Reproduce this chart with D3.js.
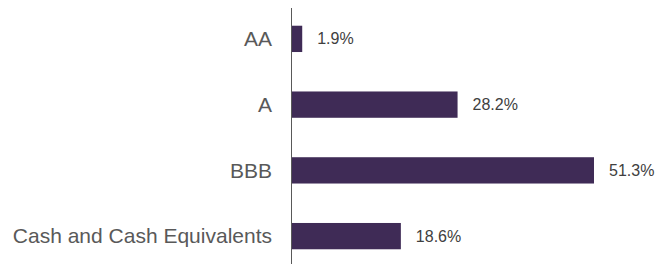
<!DOCTYPE html>
<html>
<head>
<meta charset="utf-8">
<script src="https://cdn.jsdelivr.net/npm/d3@7"></script>
<style>
  body { margin: 0; background: #fff; }
  svg { display: block; }
</style>
</head>
<body>
<svg width="656" height="264"></svg>
<script>
var categories = ["AA", "A", "BBB", "Cash and Cash Equivalents"];
var values = [1.9, 28.2, 51.3, 18.6];
var valueLabels = ["1.9%", "28.2%", "51.3%", "18.6%"];

var svg = d3.select("svg"),
  axisX = 291;

var data = categories.map((c, i) => ({ cat: c, value: values[i], label: valueLabels[i] }));

var xScale = d3.scaleLinear().domain([0, 51.3]).range([axisX, 594]);

var yScale = d3
  .scaleBand()
  .domain(categories)
  .range([6, 269])
  .paddingInner(0.6)
  .paddingOuter(0.3);

svg.selectAll("rect")
  .data(data)
  .enter()
  .append("rect")
  .attr("x", xScale(0))
  .attr("y", (d) => yScale(d.cat))
  .attr("width", (d) => xScale(d.value) - xScale(0))
  .attr("height", yScale.bandwidth())
  .attr("fill", "#3f2b56");

// axis line
svg.append("line")
  .attr("x1", axisX + 0.5).attr("x2", axisX + 0.5)
  .attr("y1", 8).attr("y2", 264)
  .attr("stroke", "#595959")
  .attr("stroke-width", 1);

// category labels
svg.selectAll(".cat")
  .data(data)
  .enter()
  .append("text")
  .attr("class", "cat")
  .attr("x", axisX - 19)
  .attr("y", (d) => yScale(d.cat) + yScale.bandwidth() / 2)
  .attr("dy", "0.35em")
  .attr("text-anchor", "end")
  .attr("font-family", "Arial, 'Liberation Sans', sans-serif")
  .attr("font-size", "21px")
  .attr("fill", "#595959")
  .text((d) => d.cat);

// value labels
svg.selectAll(".val")
  .data(data)
  .enter()
  .append("text")
  .attr("class", "val")
  .attr("x", (d) => xScale(d.value) + 15)
  .attr("y", (d) => yScale(d.cat) + yScale.bandwidth() / 2)
  .attr("dy", "0.35em")
  .attr("font-family", "Arial, 'Liberation Sans', sans-serif")
  .attr("font-size", "16px")
  .attr("fill", "#404040")
  .text((d) => d.label);
</script>
</body>
</html>
